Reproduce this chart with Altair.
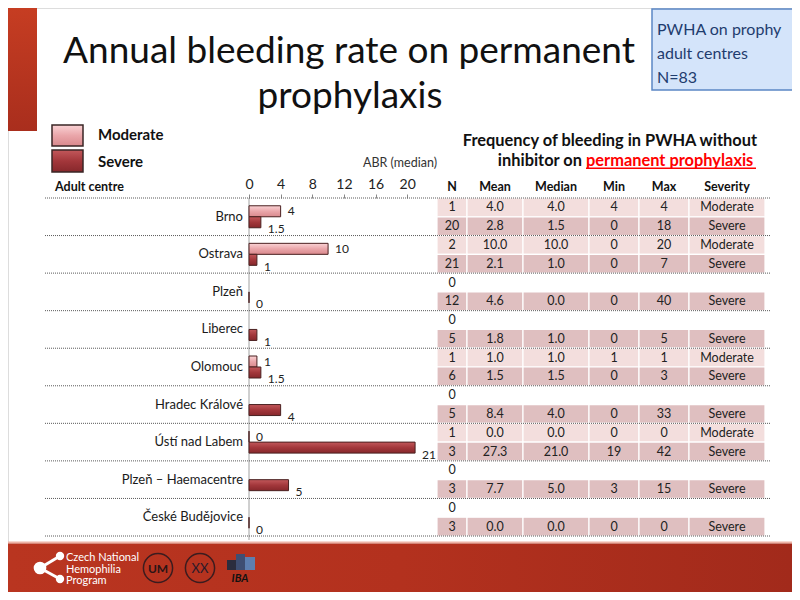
import altair as alt
import pandas as pd

# ---------------- data ----------------
CENTRES = ["Brno", "Ostrava", "Plzeň", "Liberec", "Olomouc", "Hradec Králové",
           "Ústí nad Labem", "Plzeň – Haemacentre", "České Budějovice"]
SEVERITIES = ["Moderate", "Severe"]
MOD_N = [1, 2, 0, 0, 1, 0, 1, 0, 0]
MOD_MEAN = [4.0, 10.0, None, None, 1.0, None, 0.0, None, None]
MOD_MEDIAN = [4.0, 10.0, None, None, 1.0, None, 0.0, None, None]
MOD_MIN = [4, 0, None, None, 1, None, 0, None, None]
MOD_MAX = [4, 20, None, None, 1, None, 0, None, None]
SEV_N = [20, 21, 12, 5, 6, 5, 3, 3, 3]
SEV_MEAN = [2.8, 2.1, 4.6, 1.8, 1.5, 8.4, 27.3, 7.7, 0.0]
SEV_MEDIAN = [1.5, 1.0, 0.0, 1.0, 1.5, 4.0, 21.0, 5.0, 0.0]
SEV_MIN = [0, 0, 0, 0, 0, 0, 19, 3, 0]
SEV_MAX = [18, 7, 40, 5, 3, 33, 42, 15, 0]
TABLE_COLUMNS = ["N", "Mean", "Median", "Min", "Max", "Severity"]
ABR_TICKS = [0, 4, 8, 12, 16, 20]
TITLE_LINES = ["Annual bleeding rate on permanent", "prophylaxis"]
BOX_LINES = ["PWHA on prophy", "adult centres", "N=83"]
TABLE_TITLE = ["Frequency of bleeding in PWHA without", "inhibitor on", "permanent prophylaxis"]
AXIS_TITLE = "ABR (median)"
ROW_HEADER = "Adult centre"
FOOTER_LINES = ["Czech National", "Hemophilia", "Program"]

# ---------------- tables built from the arrays ----------------
SERIES = {
    "Moderate": (MOD_N, MOD_MEAN, MOD_MEDIAN, MOD_MIN, MOD_MAX),
    "Severe": (SEV_N, SEV_MEAN, SEV_MEDIAN, SEV_MIN, SEV_MAX),
}
rows = []
for i, c in enumerate(CENTRES):
    for s in SEVERITIES:
        n, mean, med, mn, mx = (a[i] for a in SERIES[s])
        rows.append(dict(row=f"{c} | {s}", centre=c, severity=s, n=n,
                         mean=mean, median=med, mn=mn, mx=mx))
df = pd.DataFrame(rows)
ROW_KEYS = list(df["row"])
bars = df[df["n"] > 0][["row", "severity", "median"]]
groups = df[df["severity"] == SEVERITIES[0]][["row", "centre"]]
last_row = df.iloc[[-1]][["row"]]

cells = []
for r in rows:
    if r["n"] > 0:
        vals = [str(r["n"]), f"{r['mean']:.1f}", f"{r['median']:.1f}",
                str(int(r["mn"])), str(int(r["mx"])), r["severity"]]
    else:
        vals = [str(r["n"])] + [""] * 5
    for j, v in enumerate(vals):
        cells.append(dict(row=r["row"], severity=r["severity"], c0=j, c1=j + 1,
                          cm=j + 0.5, text=v, filled=r["n"] > 0))
cells = pd.DataFrame(cells)
header = pd.DataFrame({"name": TABLE_COLUMNS, "cm": [j + 0.5 for j in range(len(TABLE_COLUMNS))]})

# ---------------- styles ----------------
FONT = "Lato"
BAND = (528 - 190) / 18
YS = alt.Scale(domain=ROW_KEYS, range=[190, 528], paddingInner=0, paddingOuter=0)
XB = alt.Scale(domain=[0, 22], range=[241, 415], nice=False, zero=True)
XT = alt.Scale(domain=[0, 1, 2, 3, 4, 5, 6], range=[429, 459, 515, 581, 631, 681, 757],
               nice=False, zero=False)
AXB = alt.Axis(orient="top", values=ABR_TICKS, offset=-190, domain=False, grid=False,
               tickSize=4, tickColor="#8a8a8a", labelFont=FONT, labelFontSize=14,
               labelColor="#222222", labelPadding=3, title=None, labelFlush=False,
               labelOverlap=False)


def grad(colors, vertical=True):
    n = len(colors) - 1
    stops = [alt.GradientStop(color=c, offset=k / n) for k, c in enumerate(colors)]
    if vertical:
        return alt.Gradient(gradient="linear", stops=stops, x1=0, x2=0, y1=0, y2=1)
    return alt.Gradient(gradient="linear", stops=stops, x1=0, x2=1, y1=0, y2=0)


MOD_FILL = grad(["#fad3d5", "#eaa6aa", "#d9898d"])
SEV_FILL = grad(["#c2585b", "#a3373b", "#86272b"])
FILLS = {"Moderate": MOD_FILL, "Severe": SEV_FILL}

ONE = alt.Data(values=[{"k": 1}])


def rect(x, x2, y, y2, **kw):
    return alt.Chart(ONE).mark_rect(**kw).encode(
        x=alt.value(x), x2=alt.value(x2), y=alt.value(y), y2=alt.value(y2))


def label(text, x, y, **kw):
    kw.setdefault("font", FONT)
    return alt.Chart(ONE).mark_text(text=text, **kw).encode(x=alt.value(x), y=alt.value(y))


def rule(x, x2, y, y2, **kw):
    return alt.Chart(ONE).mark_rule(**kw).encode(
        x=alt.value(x), x2=alt.value(x2), y=alt.value(y), y2=alt.value(y2))


def dot(x, y, **kw):
    return alt.Chart(ONE).mark_point(**kw).encode(x=alt.value(x), y=alt.value(y))


# ---------------- decoration ----------------
deco = [
    rect(0, 29, 0, 123, color=grad(["#c63d22", "#a92e1d"])),
    # title
    label(TITLE_LINES[0], 341, 55, fontSize=37, align="center", baseline="alphabetic", color="#111111"),
    label(TITLE_LINES[1], 342, 100, fontSize=37, align="center", baseline="alphabetic", color="#111111"),
    # info box
    rect(644, 790, 1, 82, fill="#d4e4fa", stroke="#5b87c5", strokeWidth=1.5),
    label(BOX_LINES[0], 649, 26.5, fontSize=16, align="left", baseline="alphabetic", color="#1f3c6e"),
    label(BOX_LINES[1], 649, 51, fontSize=16, align="left", baseline="alphabetic", color="#1f3c6e"),
    label(BOX_LINES[2], 649, 75, fontSize=16, align="left", baseline="alphabetic", color="#1f3c6e"),
    # legend
    rect(44, 75, 117, 138, color=MOD_FILL, stroke="#3a2626", strokeWidth=1.5),
    rect(44, 75, 142, 164, color=SEV_FILL, stroke="#3a2626", strokeWidth=1.5),
    label(SEVERITIES[0], 90, 127, fontSize=15, fontWeight="bold", align="left", baseline="middle", color="#111111"),
    label(SEVERITIES[1], 90, 154, fontSize=15, fontWeight="bold", align="left", baseline="middle", color="#111111"),
    # texts above chart and table
    label(AXIS_TITLE, 429, 155, fontSize=12.5, align="right", baseline="middle", color="#333333"),
    label(ROW_HEADER, 47, 179, fontSize=12.5, fontWeight="bold", align="left", baseline="middle", color="#111111"),
    label(TABLE_TITLE[0], 749, 137.7, fontSize=16.4, fontWeight="bold", align="right", baseline="alphabetic", color="#111111"),
    label(TABLE_TITLE[1], 574, 157.7, fontSize=16.4, fontWeight="bold", align="right", baseline="alphabetic", color="#111111"),
    label(TABLE_TITLE[2], 578, 157.7, fontSize=16.4, fontWeight="bold", align="left", baseline="alphabetic", color="#ff0000"),
    rect(578, 748, 159.6, 161.0, color="#ff0000"),
    # footer
    rect(0, 784, 533.5, 535.5, color="#eeb3a6"),
    rect(0, 784, 535.5, 584, color=grad(["#b93520", "#b3311e", "#a22a1b"], vertical=False)),
    rule(32, 52, 560, 548, color="white", strokeWidth=3),
    rule(32, 52, 560, 571, color="white", strokeWidth=3),
    dot(32, 560, shape="circle", size=160, filled=True, color="white", opacity=1),
    dot(52, 548, shape="circle", size=70, filled=True, color="white", opacity=1),
    dot(52, 571, shape="circle", size=70, filled=True, color="white", opacity=1),
    label(FOOTER_LINES[0], 58, 550, fontSize=11, align="left", baseline="middle", color="white"),
    label(FOOTER_LINES[1], 58, 561.5, fontSize=11, align="left", baseline="middle", color="white"),
    label(FOOTER_LINES[2], 58, 573, fontSize=11, align="left", baseline="middle", color="white"),
    dot(150, 560, shape="circle", size=850, filled=False, color="#3b1c1f", strokeWidth=1.5, opacity=1),
    label("UM", 150, 561, fontSize=12, fontWeight="bold", align="center", baseline="middle", color="#2a1416"),
    dot(192, 560, shape="circle", size=850, filled=False, color="#3b1c1f", strokeWidth=1.5, opacity=1),
    label("XX", 192, 561, fontSize=13, align="center", baseline="middle", color="#2a1a2a"),
    rect(219, 228, 552, 562, color="#2b2d3e"),
    rect(228, 237, 546, 562, color="#3e4e72"),
    rect(237, 247, 549, 562, color="#5d7fb0"),
    label("IBA", 232, 571, fontSize=11, fontWeight="bold", fontStyle="italic", align="center", baseline="middle", color="#111111"),
]

# ---------------- separators and centre labels ----------------
seps = alt.Chart(groups).mark_rule(color="#5a5a5a", strokeDash=[1, 1], strokeWidth=1).encode(
    y=alt.Y("row:N", scale=YS, axis=None, bandPosition=0), x=alt.value(37), x2=alt.value(762))
sep_last = alt.Chart(last_row).mark_rule(color="#5a5a5a", strokeDash=[1, 1], strokeWidth=1).encode(
    y=alt.Y("row:N", scale=YS, axis=None, bandPosition=1), x=alt.value(37), x2=alt.value(762))
centre_labels = alt.Chart(groups).mark_text(font=FONT, fontSize=13, align="right", baseline="middle",
                                            color="#1a1a1a").encode(
    y=alt.Y("row:N", scale=YS, axis=None, bandPosition=1), x=alt.value(235), text="centre:N")

# ---------------- bar chart ----------------
axis_line = alt.Chart(ONE).mark_rule(color="#a0a0a0", strokeWidth=1).encode(
    x=alt.X(datum=0, scale=XB, axis=AXB), y=alt.value(190), y2=alt.value(532))
bar_layers = [axis_line]
for k, s in enumerate(SEVERITIES):
    sub = bars[bars["severity"] == s]
    off = BAND / 2 - 5.5 if k == 0 else -(BAND / 2 - 5.5)
    bar_layers.append(
        alt.Chart(sub).mark_bar(size=11, yOffset=off, color=FILLS[s], stroke="#4a2020",
                                strokeWidth=1).encode(
            x=alt.X("median:Q", scale=XB, axis=AXB),
            y=alt.Y("row:N", scale=YS, axis=None)))
    bar_layers.append(
        alt.Chart(sub).mark_text(font=FONT, fontSize=12, align="left", baseline="middle", dx=7,
                                 yOffset=4 if k == 0 else 3, color="#222222").encode(
            x=alt.X("median:Q", scale=XB, axis=AXB),
            y=alt.Y("row:N", scale=YS, axis=None),
            text=alt.Text("median:Q", format=".1~f")))
bar_group = alt.layer(*bar_layers)

# ---------------- table ----------------
cell_rects = alt.Chart(cells[cells["filled"]]).mark_rect(stroke="white", strokeWidth=1.2).encode(
    x=alt.X("c0:Q", scale=XT, axis=None), x2="c1:Q",
    y=alt.Y("row:N", scale=YS, axis=None),
    color=alt.Color("severity:N", scale=alt.Scale(domain=SEVERITIES, range=["#f3dedd", "#dfbfc0"]),
                    legend=None))
cell_text = alt.Chart(cells[cells["text"] != ""]).mark_text(
    font=FONT, fontSize=12.5, align="center", baseline="middle", color="#222222").encode(
    x=alt.X("cm:Q", scale=XT, axis=None), y=alt.Y("row:N", scale=YS, axis=None), text="text:N")
head_text = alt.Chart(header).mark_text(
    font=FONT, fontSize=12.5, fontWeight="bold", align="center", baseline="middle",
    color="#111111").encode(x=alt.X("cm:Q", scale=XT, axis=None), y=alt.value(179), text="name:N")
table_group = alt.layer(cell_rects, cell_text, head_text)

chart = alt.layer(*deco, table_group, bar_group, seps, sep_last, centre_labels).resolve_scale(
    x="independent").properties(
    width=784, height=584, padding=0, autosize=alt.AutoSizeParams(type="none")
).configure_view(stroke=None).configure(font=FONT)

chart.save("out.html", embed_options={"renderer": "svg", "actions": False})
